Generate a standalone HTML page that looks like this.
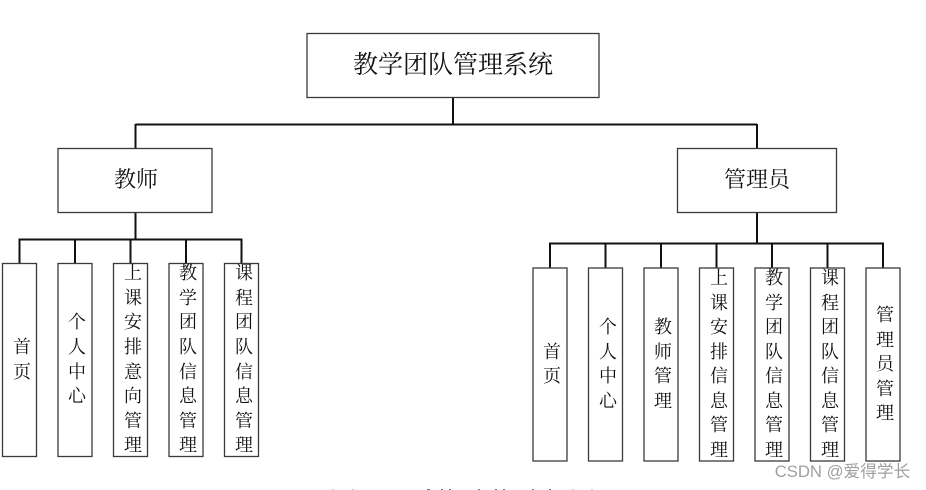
<!DOCTYPE html>
<html><head><meta charset="utf-8"><style>
html,body{margin:0;padding:0;background:#fff;width:926px;height:490px;overflow:hidden}
svg{display:block}
text{font-family:"Liberation Serif","Noto Serif CJK SC",serif;fill:#111;text-anchor:middle}
.b{fill:#fff;stroke:#3a3a3a;stroke-width:1.3}
.l{stroke:#111;stroke-width:2;fill:none}
.t{font-size:18px}
</style></head><body>
<svg width="926" height="490" viewBox="0 0 926 490" xmlns="http://www.w3.org/2000/svg">
<rect width="926" height="490" fill="#fff"/>
<path class="l" d="M453 97V124.500M135.500 124.500H757M135.500 124V149M757 124V149"/>
<path class="l" d="M135.500 212V239.500M19.500 264V239.500H241.500V264M75 239.500V264M130.500 239.500V264M186 239.500V264"/>
<path class="l" d="M757 212V243.500M550 268V243.500H883V268M605.500 243.500V268M661 243.500V268M716.500 243.500V268M772 243.500V268M827.500 243.500V268"/>
<rect class="b" x="307" y="33.500" width="292" height="64"/>
<rect class="b" x="58" y="148.500" width="154" height="64"/>
<rect class="b" x="677.500" y="148.500" width="159" height="64"/>
<text x="453" y="73" font-size="25">教学团队管理系统</text>
<text x="136" y="187" font-size="22">教师</text>
<text x="757" y="187" font-size="22">管理员</text>
<rect class="b" x="2.500" y="263.500" width="34" height="193"/>
<rect class="b" x="58" y="263.500" width="34" height="193"/>
<rect class="b" x="113.500" y="263.500" width="34" height="193"/>
<rect class="b" x="169" y="263.500" width="34" height="193"/>
<rect class="b" x="224.500" y="263.500" width="34" height="193"/>
<rect class="b" x="533" y="268" width="34" height="193"/>
<rect class="b" x="588.500" y="268" width="34" height="193"/>
<rect class="b" x="644" y="268" width="34" height="193"/>
<rect class="b" x="699.500" y="268" width="34" height="193"/>
<rect class="b" x="755" y="268" width="34" height="193"/>
<rect class="b" x="810.500" y="268" width="34" height="193"/>
<rect class="b" x="866" y="268" width="34" height="193"/>
<g class="t">
<text x="22" y="353">首</text><text x="22" y="378">页</text>
<text x="77" y="328">个</text><text x="77" y="353">人</text><text x="77" y="378">中</text><text x="77" y="402">心</text>
<text x="133" y="279">上</text><text x="133" y="304">课</text><text x="133" y="328">安</text><text x="133" y="353">排</text><text x="133" y="378">意</text><text x="133" y="402">向</text><text x="133" y="427">管</text><text x="133" y="451">理</text>
<text x="188" y="279">教</text><text x="188" y="304">学</text><text x="188" y="328">团</text><text x="188" y="353">队</text><text x="188" y="378">信</text><text x="188" y="402">息</text><text x="188" y="427">管</text><text x="188" y="451">理</text>
<text x="244" y="279">课</text><text x="244" y="304">程</text><text x="244" y="328">团</text><text x="244" y="353">队</text><text x="244" y="378">信</text><text x="244" y="402">息</text><text x="244" y="427">管</text><text x="244" y="451">理</text>
<text x="552" y="358">首</text><text x="552" y="382">页</text>
<text x="608" y="333">个</text><text x="608" y="358">人</text><text x="608" y="382">中</text><text x="608" y="407">心</text>
<text x="663" y="333">教</text><text x="663" y="358">师</text><text x="663" y="382">管</text><text x="663" y="407">理</text>
<text x="719" y="284">上</text><text x="719" y="309">课</text><text x="719" y="333">安</text><text x="719" y="358">排</text><text x="719" y="382">信</text><text x="719" y="407">息</text><text x="719" y="431">管</text><text x="719" y="456">理</text>
<text x="774" y="284">教</text><text x="774" y="309">学</text><text x="774" y="333">团</text><text x="774" y="358">队</text><text x="774" y="382">信</text><text x="774" y="407">息</text><text x="774" y="431">管</text><text x="774" y="456">理</text>
<text x="830" y="284">课</text><text x="830" y="309">程</text><text x="830" y="333">团</text><text x="830" y="358">队</text><text x="830" y="382">信</text><text x="830" y="407">息</text><text x="830" y="431">管</text><text x="830" y="456">理</text>
<text x="885" y="321">管</text><text x="885" y="346">理</text><text x="885" y="370">员</text><text x="885" y="395">管</text><text x="885" y="419">理</text>
</g>
<text x="842.500" y="477" font-size="16.700" style="font-family:'Liberation Sans','Noto Sans CJK SC',sans-serif;fill:#a0a0a0">CSDN @爱得学长</text>
<g fill="#777"><rect x="332" y="489" width="2" height="1" opacity=".4"/><rect x="352" y="489" width="2" height="1" opacity=".4"/><rect x="427" y="489" width="3" height="1"/><rect x="441" y="489" width="2" height="1"/><rect x="449" y="489" width="2" height="1"/><rect x="478" y="489" width="2" height="1"/><rect x="495" y="489" width="2" height="1"/><rect x="503" y="489" width="2" height="1"/><rect x="532" y="489" width="2" height="1"/><rect x="549" y="489" width="2" height="1"/><rect x="572" y="489" width="2" height="1" opacity=".4"/><rect x="591" y="489" width="2" height="1" opacity=".4"/></g>
</svg>
</body></html>
